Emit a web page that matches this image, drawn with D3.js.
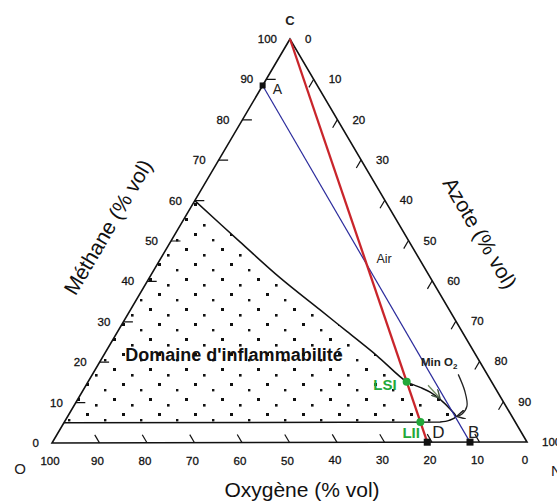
<!DOCTYPE html>
<html><head><meta charset="utf-8">
<script src="https://cdn.jsdelivr.net/npm/d3@7"></script>
<style>html,body{margin:0;padding:0;background:#fff;}svg{display:block;font-family:"Liberation Sans",Arial,sans-serif;}</style>
</head><body>
<svg id="chart" width="557" height="503"></svg>
<script>
// ---- data (compositions in % vol : methane, oxygen, nitrogen) ----
const tickValues = [0,10,20,30,40,50,60,70,80,90,100];
const pointA = [88.5, 11.5, 0];
const pointB = [0, 12, 88];
const pointD = [0, 21, 79];          // air
const pointC = [100, 0, 0];
const pointLSI = [15, 17.85, 67.15];
const pointLII = [5, 19.95, 75.05];
const airLabelPt = [44.5, 9.5, 46];
// flammability envelope (upper limit curve, nose, down to lower limit)
const envelopeM = [60, 49.75, 40.8, 32.9, 27.5, 21.5, 15, 13.6, 12.4, 10.6, 8.2, 6.4, 5.4, 5.0];
const envelopeO = [40, 35.6, 31.6, 27.2, 24.2, 20.9, 17.85, 15.7, 14.2, 13.0, 12.1, 11.8, 13.7, 15.8];
const envelopeN = [0, 14.65, 27.6, 39.9, 48.3, 57.6, 67.15, 70.7, 73.4, 76.4, 79.7, 81.8, 80.9, 79.2];
const lowerLimitEnd = [5, 95, 0];
// "Min O2" annotation arrows
const minO2CurveM = [16.8, 12.6, 8.9, 6.9, 6.4];
const minO2CurveO = [6.1, 6.8, 8.2, 10.3, 11.6];
const minO2CurveN = [77.1, 80.6, 82.9, 82.8, 82.0];
const minO2ArrowM = [14.1, 10.9];
const minO2ArrowO = [13.8, 12.9];
const minO2ArrowN = [72.1, 76.2];

// ---- layout ----
const V = {C:[290,39], O:[52,443], N:[527,442]};
const frac = d3.scaleLinear().domain([0,100]).range([0,1]);
function proj(m,o,n){
  const a=frac(m), b=frac(o), c=frac(n);
  return [a*V.C[0]+b*V.O[0]+c*V.N[0], a*V.C[1]+b*V.O[1]+c*V.N[1]];
}
const P = p => proj(p[0],p[1],p[2]);
const svg = d3.select("#chart");
const line = d3.line();
const curve = d3.line().curve(d3.curveCatmullRom.alpha(0.5));

const green = "#23a83a";

// pattern of dots
const defs = svg.append("defs");
const pat = defs.append("pattern").attr("id","dots").attr("patternUnits","userSpaceOnUse")
  .attr("width",36).attr("height",30).attr("x",3).attr("y",6);
[[2,2,3],[20,8,2.6],[11,17,3],[29,23,2.4]].forEach(d=>{
  pat.append("rect").attr("x",d[0]).attr("y",d[1]).attr("width",d[2]).attr("height",d[2]).attr("fill","#111");
});
defs.append("marker").attr("id","arr").attr("viewBox","0 0 10 10").attr("refX",9).attr("refY",5)
  .attr("markerWidth",7).attr("markerHeight",7).attr("orient","auto")
  .append("path").attr("d","M0,0 L9,5 L0,10").attr("fill","none").attr("stroke","#222").attr("stroke-width",1.6);
defs.append("marker").attr("id","arrg").attr("viewBox","0 0 10 10").attr("refX",9).attr("refY",5)
  .attr("markerWidth",7).attr("markerHeight",7).attr("orient","auto")
  .append("path").attr("d","M0,0 L9,5 L0,10").attr("fill","none").attr("stroke","#445544").attr("stroke-width",1.6);

// envelope
const envPts = envelopeM.map((m,i)=>proj(m,envelopeO[i],envelopeN[i]));
const endPt = P(lowerLimitEnd);
const envD = curve(envPts) + "L" + endPt[0] + "," + endPt[1];
svg.append("path").attr("d", envD + "Z").attr("fill","url(#dots)").attr("stroke","none");
svg.append("path").attr("d", envD).attr("fill","none").attr("stroke","#111").attr("stroke-width",1.5);

// triangle
svg.append("path").attr("d", line([V.C,V.O,V.N])+"Z").attr("fill","none").attr("stroke","#111").attr("stroke-width",1.6);

// ticks
const inner = tickValues.filter(v=>v>0 && v<100);
const tk = svg.append("g").attr("stroke","#111").attr("stroke-width",1.2);
inner.forEach(v=>{
  tk.append("path").attr("d", line([proj(v,100-v,0), proj(v,100-v-2,2)]));
  tk.append("path").attr("d", line([proj(100-v,0,v), proj(100-v-2,2,v)]));
  tk.append("path").attr("d", line([proj(0,v,100-v), proj(2,v,98-v)]));
});

// tick labels
const lab = svg.append("g").attr("font-size",11.5).attr("fill","#111").attr("stroke","#111").attr("stroke-width",0.3);
tickValues.forEach(v=>{
  const l = proj(v,100-v,0);
  lab.append("text").attr("x",l[0]-13).attr("y",l[1]+4).attr("text-anchor","end").text(v);
  const r = proj(100-v,0,v);
  lab.append("text").attr("x",r[0]+15).attr("y",r[1]+4).attr("text-anchor","start").text(v);
  const b = proj(0,v,100-v);
  lab.append("text").attr("x",b[0]-2).attr("y",b[1]+22).attr("text-anchor","middle").text(v);
});

// lines
svg.append("path").attr("d", line([P(pointA),P(pointB)])).attr("stroke","#2b2b9c").attr("stroke-width",1.2).attr("fill","none");
svg.append("path").attr("d", line([P(pointC),P(pointD)])).attr("stroke","#c9252b").attr("stroke-width",2.3).attr("fill","none");

// annotation arrows
const cPts = minO2CurveM.map((m,i)=>proj(m,minO2CurveO[i],minO2CurveN[i]));
svg.append("path").attr("d", curve(cPts)).attr("fill","none").attr("stroke","#222").attr("stroke-width",1.3).attr("marker-end","url(#arr)");
const aPts = minO2ArrowM.map((m,i)=>proj(m,minO2ArrowO[i],minO2ArrowN[i]));
svg.append("path").attr("d", line(aPts)).attr("fill","none").attr("stroke","#6f8a5f").attr("stroke-width",1.3).attr("marker-end","url(#arrg)");

// points
[pointA,pointB,pointD].forEach((p,i)=>{
  const q=P(p), s = i===0?6:7;
  svg.append("rect").attr("x",q[0]-s/2).attr("y",q[1]-s/2).attr("width",s).attr("height",s).attr("fill","#111");
});
[pointLSI,pointLII].forEach(p=>{
  const q=P(p);
  svg.append("circle").attr("cx",q[0]).attr("cy",q[1]).attr("r",4).attr("fill",green);
});

// labels
const qA=P(pointA), qB=P(pointB), qD=P(pointD), qLSI=P(pointLSI), qLII=P(pointLII), qAir=P(airLabelPt);
svg.append("text").attr("x",qA[0]+10).attr("y",qA[1]+9).attr("font-size",14).attr("fill","#222").text("A");
svg.append("text").attr("x",qB[0]-2).attr("y",qB[1]-4).attr("font-size",17).attr("fill","#222").text("B");
svg.append("text").attr("x",qD[0]+5).attr("y",qD[1]-4).attr("font-size",17).attr("fill","#222").text("D");
svg.append("text").attr("x",qLSI[0]-10).attr("y",qLSI[1]+8).attr("text-anchor","end").attr("font-size",15).attr("font-weight","bold").attr("fill",green).text("LSI");
svg.append("text").attr("x",qLII[0]-18).attr("y",qLII[1]+16).attr("font-size",15).attr("font-weight","bold").attr("fill",green).text("LII");
svg.append("text").attr("x",qAir[0]).attr("y",qAir[1]).attr("font-size",12.5).attr("fill","#222").text("Air");
const mo = svg.append("text").attr("x",421).attr("y",366).attr("font-size",11.5).attr("font-weight","bold").attr("fill","#222");
mo.append("tspan").text("Min O");
mo.append("tspan").attr("font-size",8).attr("dy",3).text("2");

svg.append("text").attr("x",V.C[0]).attr("y",V.C[1]-14).attr("text-anchor","middle").attr("font-size",13).attr("font-weight","bold").attr("fill","#222").text("C");
svg.append("text").attr("x",20).attr("y",474).attr("text-anchor","middle").attr("font-size",15).attr("fill","#222").text("O");
svg.append("text").attr("x",551).attr("y",476).attr("font-size",15).attr("fill","#222").text("N");

svg.append("text").attr("x",234).attr("y",361).attr("text-anchor","middle").attr("font-size",18).attr("font-weight","bold").attr("fill","#111").text("Domaine d'inflammabilité");

svg.append("text").attr("transform","translate(108,227) rotate(-59.5)").attr("text-anchor","middle").attr("dy","0.35em").attr("font-size",21).attr("fill","#111").text("Méthane (% vol)");
svg.append("text").attr("transform","translate(480,233) rotate(59.5)").attr("text-anchor","middle").attr("dy","0.35em").attr("font-size",21).attr("fill","#111").text("Azote (% vol)");
svg.append("text").attr("x",302).attr("y",497).attr("text-anchor","middle").attr("font-size",21).attr("fill","#111").text("Oxygène (% vol)");
</script>
</body></html>
